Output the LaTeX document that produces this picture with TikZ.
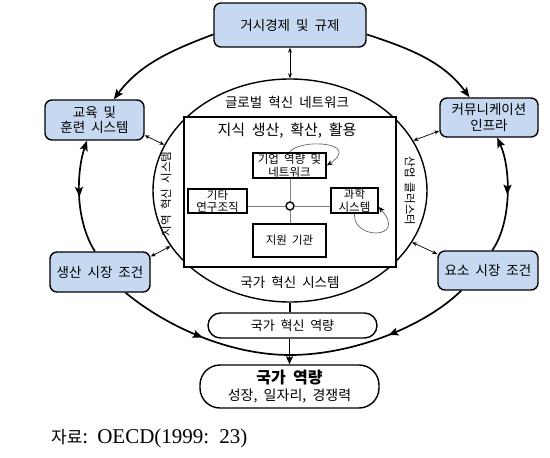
\documentclass[tikz,border=0pt]{standalone}
\usepackage{fontspec}
\setmainfont[WordSpace=2.0]{Noto Sans CJK KR}
\newfontfamily\tnr{Liberation Serif}
\usetikzlibrary{arrows.meta,shapes.geometric,decorations.markings,calc}
\definecolor{boxblue}{HTML}{C6D9F1}
\begin{document}
\begin{tikzpicture}[x=1pt,y=-1pt,
  bluebox/.style={draw, line width=1.4pt, rounded corners=7pt, fill=boxblue, inner sep=0pt, align=center, font=\fontsize{13.5}{15.5}\selectfont},
  innerbox/.style={draw, line width=1.7pt, fill=white, inner sep=0pt, align=center, font=\fontsize{11.5}{12.5}\selectfont},
  pillbox/.style={draw, line width=1.4pt, fill=white, inner sep=0pt, align=center},
  bigline/.style={line width=1.7pt},
  bigtip/.style={-{Stealth[length=10pt,width=8pt,inset=2pt]}},
  thinarrow/.style={line width=0.7pt, {Stealth[length=5pt,width=4pt]}-{Stealth[length=5pt,width=4pt]}},
  midarrow/.style={postaction={decorate}, decoration={markings, mark=at position #1 with {\arrow{Stealth[length=10pt,width=8pt,inset=2pt]}}}},
  graylink/.style={draw=gray, line width=1pt},
  selfloop/.style={draw=gray!80!black, line width=0.7pt, -{Stealth[length=6pt,width=5pt,color=black]}},
  lbl/.style={inner sep=0pt}
]
\useasboundingbox (0,0) rectangle (550,458);

% outer boxes
\node[bluebox, minimum width=152pt, minimum height=44pt] (top) at (290,25) {거시경제 및 규제};
\node[bluebox, minimum width=99pt, minimum height=40pt] (edu) at (94.5,120) {교육 및\\훈련 시스템};
\node[bluebox, minimum width=98pt, minimum height=39pt] (comm) at (489,117.5) {커뮤니케이션\\인프라};
\node[bluebox, minimum width=100pt, minimum height=40pt] (prod) at (100,272) {생산 시장 조건};
\node[bluebox, minimum width=100pt, minimum height=39pt] (factor) at (488,270.5) {요소 시장 조건};

% big ellipse and core rectangle
\node[draw, ellipse, line width=1.4pt, minimum width=274pt, minimum height=223pt, inner sep=0pt] (nis) at (290,190.5) {};
\node[draw, line width=1.8pt, fill=white, minimum width=212pt, minimum height=150pt, inner sep=0pt] (core) at (290,192.3) {};

\node[lbl, font=\fontsize{13.5}{16}\selectfont] (glob) at (287,102) {글로벌 혁신 네트워크};
\node[lbl, font=\fontsize{15}{18}\selectfont] (know) at (287,131) {지식 생산, 확산, 활용};
\node[lbl, font=\fontsize{13.5}{16}\selectfont] (nistxt) at (290,282) {국가 혁신 시스템};
\node[lbl, rotate=90, font=\fontsize{11.5}{13}\selectfont] (reg) at (166,194) {지역 혁신 시스템};
\node[lbl, rotate=-90, font=\fontsize{11.5}{13}\selectfont] (clus) at (410,191) {산업 클러스터};

% inner boxes
\node[innerbox, minimum width=73pt, minimum height=25pt] (firm) at (289.5,165.5) {기업 역량 및\\네트워크};
\node[innerbox, minimum width=59pt, minimum height=24pt] (other) at (217.5,201) {기타\\연구조직};
\node[innerbox, minimum width=47pt, minimum height=25pt] (sci) at (354.5,200.5) {과학\\시스템};
\node[innerbox, minimum width=73pt, minimum height=33pt] (supp) at (289.5,240.5) {지원 기관};
\node[draw, circle, line width=1.4pt, fill=white, minimum size=8pt, inner sep=0pt] (hub) at (290,206) {};

\draw[graylink] (hub) -- (other.east |- hub.center);
\draw[graylink] (hub) -- (sci.west |- hub.center);
\draw[graylink] (hub) -- (hub.center |- firm.south);
\draw[graylink] (hub) -- (hub.center |- supp.north);

\draw[selfloop] (firm.north) .. controls (300,138) and (362,142) .. (firm.east);
\draw[selfloop] (sci.south) .. controls (352,240) and (408,240) .. (sci.-15);

% lower pills
\node[pillbox, minimum width=169pt, minimum height=25pt, rounded corners=12.5pt, font=\fontsize{13}{15}\selectfont] (nic) at (292.5,325.5) {국가 혁신 역량};
\node[pillbox, minimum width=179pt, minimum height=43pt, rounded corners=20pt, font=\fontsize{14}{17}\selectfont] (nc) at (289.5,386.5) {{\bfseries\fontsize{16}{17}\selectfont 국가 역량}\\성장, 일자리, 경쟁력};

\coordinate (meet) at (290,355);

% thin double arrows
\draw[thinarrow] (top.south) -- (nis.north);
\draw[thinarrow] (edu.-17) -- (nis.160);
\draw[thinarrow] (comm.195) -- (nis.22);
\draw[thinarrow] (prod.17) -- (nis.205);
\draw[thinarrow] (factor.162) -- (nis.-23);

% big outer curves
\draw[bigline, bigtip] (top.187) .. controls (172,50) and (140,64) .. (edu.47);
\draw[bigline, bigtip] (top.353) .. controls (408,48) and (443,61) .. (comm.134);
\draw[bigline, {Stealth[length=10pt,width=8pt,inset=2pt]}-, midarrow=0.5] (edu.250) .. controls (77,170) and (74,218) .. (prod.104);
\draw[bigline, {Stealth[length=10pt,width=8pt,inset=2pt]}-, midarrow=0.5] (comm.292) .. controls (511,168) and (512,222) .. (factor.78);
\draw[bigline, midarrow=0.5] (prod.321) .. controls (167,327) and (230,355) .. (meet);
\draw[bigline, midarrow=0.46] (factor.217) .. controls (424,327) and (352,355) .. (meet);

% vertical links
\draw[bigline] (nis.south) -- (nis.south |- nic.north);
\draw[bigline, -{Stealth[length=8pt,width=7pt,inset=1.5pt]}] (nc.north |- nic.south) -- (nc.north);

% source
\node[lbl, anchor=west] (src) at (51,438) {{\fontsize{17}{20}\selectfont 자료}{\tnr\fontsize{21}{23}\selectfont :\hspace*{9pt}OECD(1999:\hspace*{10pt}23)}};
\end{tikzpicture}
\end{document}
